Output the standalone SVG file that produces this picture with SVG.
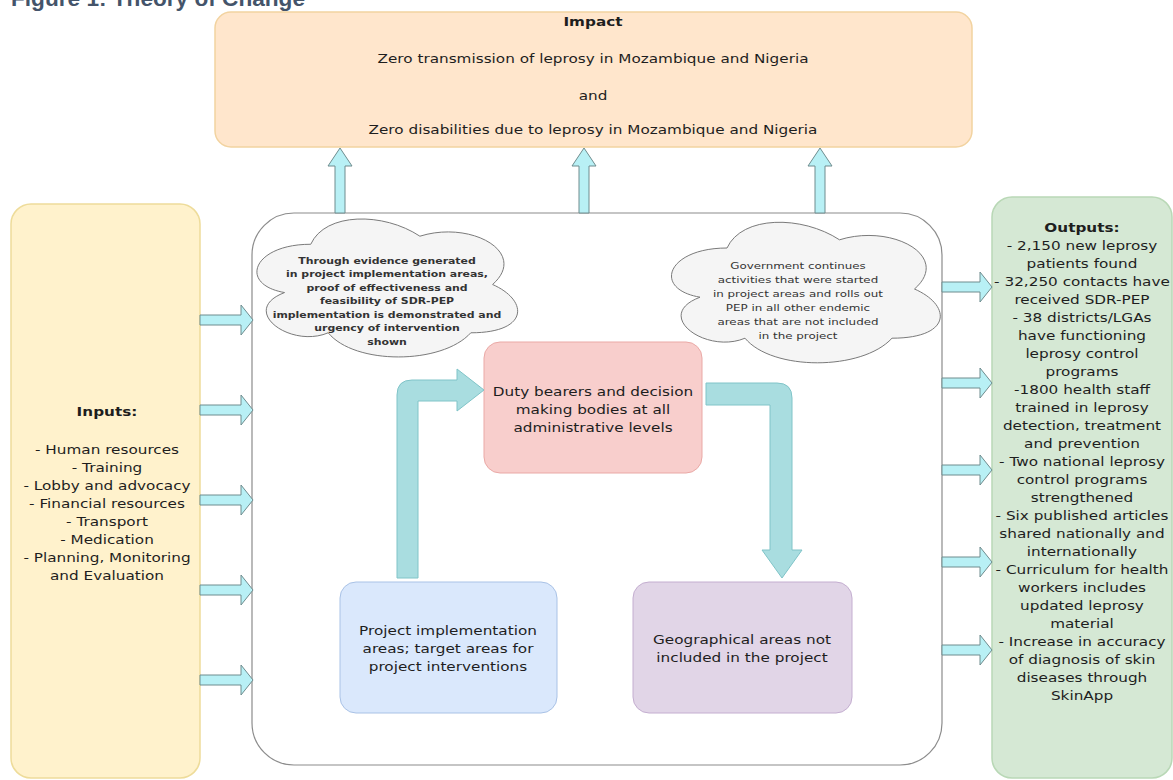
<svg xmlns="http://www.w3.org/2000/svg" width="1173" height="780" viewBox="0 0 1173 780">
<defs>
<style>
.t{font-family:"DejaVu Sans",Verdana,sans-serif;font-size:12.5px;fill:#1e1e1e;text-anchor:middle}
.b{font-weight:bold}
.cl{fill:#f5f5f5;stroke:#7a7a7a;stroke-width:1}
.ct{font-family:"DejaVu Sans",Verdana,sans-serif;font-size:9.5px;fill:#333;text-anchor:middle}
.ar{fill:#b8f0f5;stroke:#6f8c8e;stroke-width:1}
.bent{fill:#a9dde0;stroke:#80c4c8;stroke-width:1}
</style>
</defs>
<rect width="1173" height="780" fill="#fff"/>
<text x="11" y="6" font-family="'Liberation Sans',Arial,sans-serif" font-size="22" font-weight="bold" fill="#44546a" textLength="294" lengthAdjust="spacingAndGlyphs">Figure 1: Theory of Change</text>

<g id="impact">
<rect x="215" y="12" width="757" height="135" rx="16" fill="#ffe6cc" stroke="#f2d3a0" stroke-width="1.5"/>
<g transform="matrix(1.22 0 0 1 -130.46 0)">
<text class="t b" x="593" y="26">Impact</text>
<text class="t" x="593" y="63">Zero transmission of leprosy in Mozambique and Nigeria</text>
<text class="t" x="593" y="100">and</text>
<text class="t" x="593" y="134">Zero disabilities due to leprosy in Mozambique and Nigeria</text>
</g>
</g>

<g id="inputs">
<rect x="11" y="204" width="189" height="574" rx="20" fill="#fff2cc" stroke="#eedc9a" stroke-width="1.5"/>
<g transform="matrix(1.22 0 0 1 -23.54 0)">
<text class="t b" x="107" y="416">Inputs:</text>
<text class="t" x="107" y="454">- Human resources</text>
<text class="t" x="107" y="472">- Training</text>
<text class="t" x="107" y="490">- Lobby and advocacy</text>
<text class="t" x="107" y="508">- Financial resources</text>
<text class="t" x="107" y="526">- Transport</text>
<text class="t" x="107" y="544">- Medication</text>
<text class="t" x="107" y="562">- Planning, Monitoring</text>
<text class="t" x="107" y="580">and Evaluation</text>
</g>
</g>

<g id="container">
<rect x="252" y="213" width="690" height="552" rx="42" fill="#fff" stroke="#8c8c8c" stroke-width="1.2"/>
</g>

<g id="cloud1">
<path class="cl" d="M310.75,244.25 C252.55,244.25 238,284.5 284.56,292.55 C238,310.26 290.38,348.9 328.21,332.8 C354.4,365 441.7,365 470.8,332.8 C529,332.8 529,300.6 492.6,284.5 C529,252.3 470.8,220.1 419.9,236.2 C383.5,212.05 325.3,212.05 310.75,244.25 Z"/>
<g transform="matrix(1.15 0 0 1 -58.05 0)">
<text class="ct b" x="387" y="264">Through evidence generated</text>
<text class="ct b" x="387" y="277.5">in project implementation areas,</text>
<text class="ct b" x="387" y="291">proof of effectiveness and</text>
<text class="ct b" x="387" y="304.5">feasibility of SDR-PEP</text>
<text class="ct b" x="387" y="318">implementation  is demonstrated and</text>
<text class="ct b" x="387" y="331.5">urgency of intervention</text>
<text class="ct b" x="387" y="345">shown</text>
</g>
</g>

<g id="cloud2">
<path class="cl" d="M727,248 C667,248 652,289 700,297.2 C652,315.24 706,354.6 745,338.2 C772,371 862,371 892,338.2 C952,338.2 952,305.4 914.5,289 C952,256.2 892,223.4 839.5,239.8 C802,215.2 742,215.2 727,248 Z"/>
<g transform="matrix(1.25 0 0 1 -199.5 0)">
<text class="ct" x="798" y="269" font-size="11.5">Government continues</text>
<text class="ct" x="798" y="283" font-size="11.5">activities that were started</text>
<text class="ct" x="798" y="297" font-size="11.5">in project areas and rolls out</text>
<text class="ct" x="798" y="311" font-size="11.5">PEP in all other endemic</text>
<text class="ct" x="798" y="325" font-size="11.5">areas that are not included</text>
<text class="ct" x="798" y="339" font-size="11.5">in the project</text>
</g>
</g>

<g id="duty">
<rect x="484" y="342" width="218" height="131" rx="16" fill="#f8cecc" stroke="#eaa9a6" stroke-width="1"/>
<g transform="matrix(1.22 0 0 1 -130.46 0)">
<text class="t" x="593" y="396">Duty bearers and decision</text>
<text class="t" x="593" y="414">making bodies at all</text>
<text class="t" x="593" y="432">administrative levels</text>
</g>
</g>

<g id="project">
<rect x="340" y="582" width="217" height="131" rx="16" fill="#dae8fc" stroke="#a9c2e6" stroke-width="1"/>
<g transform="matrix(1.22 0 0 1 -98.56 0)">
<text class="t" x="448" y="635">Project implementation</text>
<text class="t" x="448" y="653">areas; target areas for</text>
<text class="t" x="448" y="671">project interventions</text>
</g>
</g>

<g id="geo">
<rect x="633" y="582" width="219" height="131" rx="16" fill="#e1d5e7" stroke="#c4aed0" stroke-width="1"/>
<g transform="matrix(1.22 0 0 1 -163.24 0)">
<text class="t" x="742" y="644">Geographical areas not</text>
<text class="t" x="742" y="662">included in the project</text>
</g>
</g>

<g id="outputs">
<rect x="992" y="197" width="180" height="581" rx="20" fill="#d5e8d4" stroke="#b9d8b6" stroke-width="1.5"/>
<g transform="matrix(1.22 0 0 1 -238.04 0)">
<text class="t b" x="1082" y="232">Outputs:</text>
<text class="t" x="1082" y="250">- 2,150 new leprosy</text>
<text class="t" x="1082" y="268">patients found</text>
<text class="t" x="1082" y="286">- 32,250 contacts have</text>
<text class="t" x="1082" y="304">received SDR-PEP</text>
<text class="t" x="1082" y="322">- 38 districts/LGAs</text>
<text class="t" x="1082" y="340">have functioning</text>
<text class="t" x="1082" y="358">leprosy control</text>
<text class="t" x="1082" y="376">programs</text>
<text class="t" x="1082" y="394">-1800 health staff</text>
<text class="t" x="1082" y="412">trained in leprosy</text>
<text class="t" x="1082" y="430">detection, treatment</text>
<text class="t" x="1082" y="448">and prevention</text>
<text class="t" x="1082" y="466">- Two national leprosy</text>
<text class="t" x="1082" y="484">control programs</text>
<text class="t" x="1082" y="502">strengthened</text>
<text class="t" x="1082" y="520">- Six published articles</text>
<text class="t" x="1082" y="538">shared nationally and</text>
<text class="t" x="1082" y="556">internationally</text>
<text class="t" x="1082" y="574">- Curriculum for health</text>
<text class="t" x="1082" y="592">workers includes</text>
<text class="t" x="1082" y="610">updated leprosy</text>
<text class="t" x="1082" y="628">material</text>
<text class="t" x="1082" y="646">- Increase in accuracy</text>
<text class="t" x="1082" y="664">of diagnosis of skin</text>
<text class="t" x="1082" y="682">diseases through</text>
<text class="t" x="1082" y="700">SkinApp</text>
</g>
</g>

<g id="connectors">
<path class="ar" d="M335,213 V166 H328 L340,148 L352,166 H345 V213 Z"/>
<path class="ar" d="M579,213 V166 H572 L584,148 L596,166 H589 V213 Z"/>
<path class="ar" d="M815,213 V166 H808 L820,148 L832,166 H825 V213 Z"/>
<path class="ar" d="M200,315 H241 V305 L253,320 L241,335 V325 H200 Z"/>
<path class="ar" d="M200,405 H241 V395 L253,410 L241,425 V415 H200 Z"/>
<path class="ar" d="M200,495 H241 V485 L253,500 L241,515 V505 H200 Z"/>
<path class="ar" d="M200,585 H241 V575 L253,590 L241,605 V595 H200 Z"/>
<path class="ar" d="M200,675 H241 V665 L253,680 L241,695 V685 H200 Z"/>
<path class="ar" d="M942,282 H980 V272 L992,287 L980,302 V292 H942 Z"/>
<path class="ar" d="M942,378 H980 V368 L992,383 L980,398 V388 H942 Z"/>
<path class="ar" d="M942,465 H980 V455 L992,470 L980,485 V475 H942 Z"/>
<path class="ar" d="M942,557 H980 V547 L992,562 L980,577 V567 H942 Z"/>
<path class="ar" d="M942,645 H980 V635 L992,650 L980,665 V655 H942 Z"/>
<path class="bent" d="M397,578 V395 Q397,380 412,380 H457 V369 L484,390 L457,411 V401 H418 V578 Z"/>
<path class="bent" d="M706,383 H777 Q792,383 792,398 V550 H802 L782,578 L762,550 H770 V405 H706 Z"/>
</g>
</svg>
